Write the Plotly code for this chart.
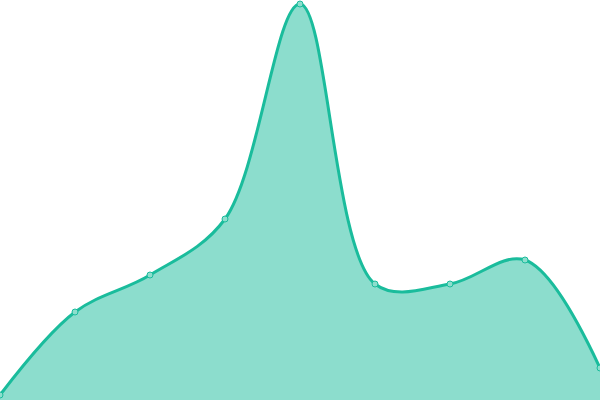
import plotly.graph_objects as go

# data
categories = [0, 1, 2, 3, 4, 5, 6, 7, 8]
values = [5, 88, 125, 181, 396, 116, 116, 140, 32]

line_color = "#1abc9c"
fill_color = "rgba(26,188,156,0.5)"

fig = go.Figure()
fig.add_trace(go.Scatter(x=categories,
                         y=values,
                         mode="lines+markers",
                         line=dict(color=line_color, width=3, shape="spline", smoothing=1),
                         fill="tozeroy",
                         fillcolor=fill_color,
                         marker=dict(size=6, color="#8ddecd",
                                     line=dict(color=line_color, width=1)),
                         cliponaxis=False,
                         hoverinfo="skip",
                         showlegend=False))

fig.update_layout(width=600, height=400,
                  margin=dict(l=0, r=0, t=0, b=0),
                  paper_bgcolor="white",
                  plot_bgcolor="white")
fig.update_xaxes(range=[0, 8], visible=False, showgrid=False)
fig.update_yaxes(range=[0, 400], visible=False, showgrid=False)

# drop the page's default 8px body margin so the chart sits flush
fig.write_html("out.html",
               config={"displayModeBar": False},
               post_script="document.body.style.margin='0';")
